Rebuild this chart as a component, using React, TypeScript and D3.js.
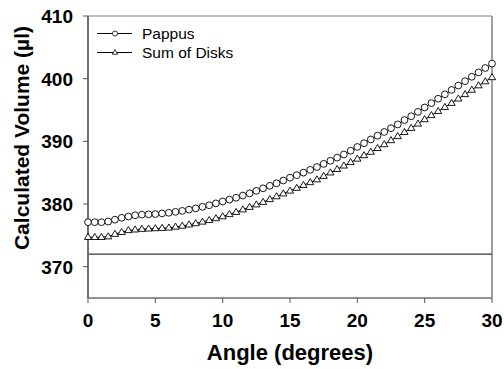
import React from "react";
import * as d3 from "d3";

const angles = [
  0, 0.5, 1, 1.5, 2, 2.5, 3, 3.5, 4, 4.5, 5, 5.5, 6, 6.5, 7, 7.5, 8, 8.5, 9, 9.5,
  10, 10.5, 11, 11.5, 12, 12.5, 13, 13.5, 14, 14.5, 15, 15.5, 16, 16.5, 17, 17.5,
  18, 18.5, 19, 19.5, 20, 20.5, 21, 21.5, 22, 22.5, 23, 23.5, 24, 24.5, 25, 25.5,
  26, 26.5, 27, 27.5, 28, 28.5, 29, 29.5, 30,
];

const pappus = [
  377.1, 377.1, 377.1, 377.2, 377.5, 377.8, 378.0, 378.2, 378.3, 378.35, 378.4,
  378.5, 378.6, 378.75, 378.9, 379.1, 379.3, 379.55, 379.8, 380.1, 380.4, 380.7,
  381.0, 381.35, 381.7, 382.1, 382.5, 382.9, 383.3, 383.75, 384.2, 384.6, 385.0,
  385.45, 385.9, 386.4, 386.9, 387.4, 387.9, 388.5, 389.1, 389.7, 390.3, 390.9,
  391.5, 392.1, 392.7, 393.4, 394.0, 394.7, 395.4, 396.1, 396.8, 397.5, 398.2,
  398.9, 399.6, 400.3, 401.0, 401.7, 402.4,
];

const sumOfDisks = [
  374.7, 374.7, 374.7, 374.8, 375.2, 375.5, 375.8, 375.9, 376.0, 376.05, 376.1,
  376.15, 376.2, 376.35, 376.5, 376.7, 376.9, 377.15, 377.4, 377.7, 378.0,
  378.35, 378.7, 379.1, 379.5, 379.9, 380.3, 380.75, 381.2, 381.65, 382.1,
  382.55, 383.0, 383.45, 383.9, 384.45, 385.0, 385.55, 386.1, 386.65, 387.2,
  387.75, 388.3, 388.9, 389.5, 390.15, 390.8, 391.45, 392.1, 392.8, 393.5,
  394.15, 394.8, 395.45, 396.1, 396.8, 397.5, 398.2, 398.9, 399.55, 400.2,
];

const referenceVolume = 372;
const xTicks = [0, 5, 10, 15, 20, 25, 30];
const yTicks = [370, 380, 390, 400, 410];

const width = 504;
const height = 369;
const margin = { top: 16, right: 12, bottom: 71, left: 88 };

const App = () => {
  const x = d3
    .scaleLinear()
    .domain([0, 30])
    .range([margin.left, width - margin.right]);
  const y = d3
    .scaleLinear()
    .domain([365, 410])
    .range([height - margin.bottom, margin.top]);

  const line = d3
    .line<number>()
    .x((_, i) => x(angles[i]))
    .y((d) => y(d));

  // triangle marker centred on the point
  const tri = (cx: number, cy: number, s: number) =>
    `M${cx},${cy - s}L${cx + s * 0.95},${cy + s * 0.6}L${cx - s * 0.95},${cy + s * 0.6}Z`;

  const x0 = x(0);
  const x1 = x(30);
  const yTop = y(410);
  const yBot = y(365);
  const font = "Arial, 'Liberation Sans', sans-serif";

  return (
    <svg
      width={width}
      height={height}
      style={{ position: "absolute", left: 0, top: 0, background: "#fff" }}
      fontFamily={font}
    >
      {/* frame */}
      <line x1={x0} x2={x1} y1={yTop} y2={yTop} stroke="#808080" strokeWidth={1} />
      <line x1={x1} x2={x1} y1={yTop} y2={yBot} stroke="#808080" strokeWidth={1.5} />

      {/* reference line */}
      <line
        x1={x0}
        x2={x1}
        y1={y(referenceVolume)}
        y2={y(referenceVolume)}
        stroke="#333"
        strokeWidth={1.2}
      />

      {/* axes */}
      <line x1={x0} x2={x0} y1={yTop} y2={yBot} stroke="#6e6e6e" strokeWidth={2} />
      <line x1={x0} x2={x1} y1={yBot} y2={yBot} stroke="#6e6e6e" strokeWidth={1.5} />
      {yTicks.map((t) => (
        <g key={t}>
          <line x1={x0 - 5} x2={x0} y1={y(t)} y2={y(t)} stroke="#555" />
          <text
            x={73}
            y={y(t)}
            dy="0.36em"
            textAnchor="end"
            fontSize={19}
            fontWeight="bold"
          >
            {t}
          </text>
        </g>
      ))}
      {xTicks.map((t) => (
        <g key={t}>
          <line x1={x(t)} x2={x(t)} y1={yBot} y2={yBot + 5} stroke="#555" />
          <text
            x={x(t)}
            y={327}
            textAnchor="middle"
            fontSize={19}
            fontWeight="bold"
          >
            {t}
          </text>
        </g>
      ))}

      <text
        x={(x0 + x1) / 2}
        y={360}
        textAnchor="middle"
        fontSize={22}
        fontWeight="bold"
      >
        Angle (degrees)
      </text>
      <text
        transform={`translate(29,138) rotate(-90)`}
        textAnchor="middle"
        fontSize={21}
        fontWeight="bold"
      >
        Calculated Volume (µl)
      </text>

      {/* series */}
      <path d={line(pappus) || ""} fill="none" stroke="#000" strokeWidth={1} />
      <path d={line(sumOfDisks) || ""} fill="none" stroke="#000" strokeWidth={1} />
      {pappus.map((v, i) => (
        <circle
          key={`p${i}`}
          cx={x(angles[i])}
          cy={y(v)}
          r={3.4}
          fill="#fff"
          stroke="#000"
          strokeWidth={0.9}
        />
      ))}
      {sumOfDisks.map((v, i) => (
        <path
          key={`s${i}`}
          d={tri(x(angles[i]), y(v), 3.8)}
          fill="#fff"
          stroke="#000"
          strokeWidth={0.9}
        />
      ))}

      {/* legend */}
      <g>
        <line x1={97} x2={132} y1={33.5} y2={33.5} stroke="#000" />
        <circle cx={115} cy={33.5} r={2.5} fill="#fff" stroke="#000" strokeWidth={0.8} />
        <text x={142} y={33.5} dy="0.36em" fontSize={15.5}>
          Pappus
        </text>
        <line x1={97} x2={132} y1={52.5} y2={52.5} stroke="#000" />
        <path d={tri(115, 52.5, 2.9)} fill="#fff" stroke="#000" strokeWidth={0.8} />
        <text x={142} y={52.5} dy="0.36em" fontSize={15.5}>
          Sum of Disks
        </text>
      </g>
    </svg>
  );
};

export default App;
